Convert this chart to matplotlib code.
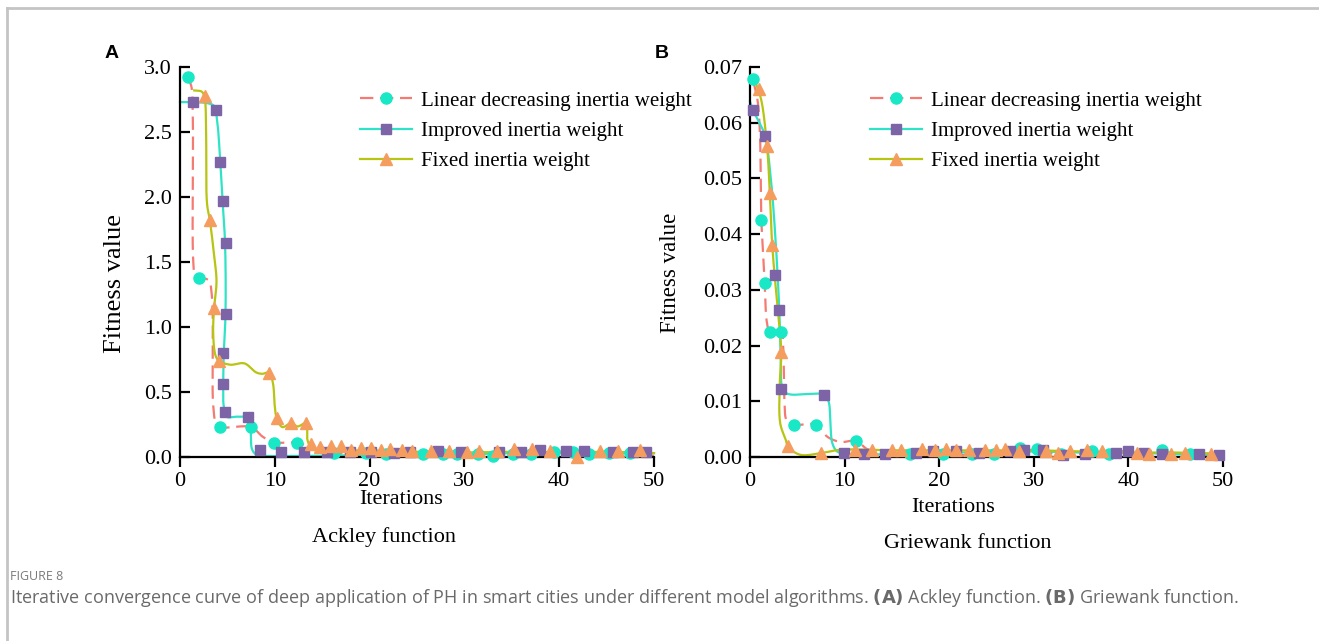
import numpy as np
import matplotlib
matplotlib.use("Agg")
import matplotlib.pyplot as plt
from matplotlib.lines import Line2D

# ---- data ----
# (A) Ackley function
ack_lin_line_x = [0.8, 1.2, 1.35, 1.4, 1.6, 2.0, 3.0, 3.35, 3.5, 3.8, 4.25, 7.5, 8.7, 9.6, 9.95, 12.3, 13.6,
                  15.0, 16.2, 19.6, 21.7, 25.6, 29.2, 33.0, 37.0, 39.4, 41.5, 45.3, 47.5, 50.0]
ack_lin_line_y = [2.92, 2.85, 2.6, 1.5, 1.39, 1.38, 1.36, 1.25, 0.4, 0.26, 0.23, 0.23, 0.157, 0.12, 0.11, 0.11, 0.08,
                  0.035, 0.03, 0.02, 0.02, 0.015, 0.02, 0.01, 0.02, 0.04, 0.04, 0.025, 0.02, 0.01]
ack_lin_mk_x = [0.8, 2.0, 4.25, 7.5, 9.95, 12.3, 16.2, 19.6, 21.7, 25.6, 27.7, 29.2, 31.4, 33.0, 35.1, 37.0,
                39.4, 41.5, 43.1, 45.3, 47.5]
ack_lin_mk_y = [2.92, 1.38, 0.23, 0.23, 0.11, 0.11, 0.03, 0.03, 0.02, 0.02, 0.02, 0.02, 0.02, 0.01, 0.025, 0.02,
                0.04, 0.04, 0.025, 0.03, 0.03]

ack_imp_line_x = [0, 1.38, 3.0, 3.6, 3.9, 4.25, 4.49, 4.75, 4.8, 4.62, 4.56, 4.6, 4.9, 6.0, 7.18, 7.45, 7.6,
                  8.1, 9.0, 12.0, 15.0, 20.0, 25.0, 30.0, 35.0, 40.0, 45.0, 50.0]
ack_imp_line_y = [2.73, 2.73, 2.72, 2.70, 2.6, 2.27, 1.97, 1.65, 1.10, 0.80, 0.56, 0.40, 0.31, 0.31, 0.30, 0.2,
                  0.06, 0.015, 0.008, 0.008, 0.01, 0.015, 0.02, 0.02, 0.03, 0.035, 0.03, 0.03]
ack_imp_mk_x = [1.38, 3.83, 4.25, 4.49, 4.8, 4.8, 4.56, 4.56, 4.73, 7.18, 8.4, 10.7, 13.06, 15.5, 17.9, 20.1,
                22.6, 24.3, 27.2, 29.6, 33.6, 36.0, 38.0, 40.7, 42.6, 45.7, 47.8, 49.2]
ack_imp_mk_y = [2.73, 2.67, 2.27, 1.97, 1.65, 1.10, 0.80, 0.56, 0.35, 0.31, 0.054, 0.036, 0.036, 0.04, 0.04,
                0.04, 0.03, 0.035, 0.05, 0.04, 0.04, 0.035, 0.055, 0.05, 0.045, 0.04, 0.04, 0.035]

ack_fix_line_x = [1.5, 2.3, 2.6, 2.75, 2.85, 3.15, 3.6, 3.85, 3.6, 3.5, 3.75, 4.1, 5.3, 6.8, 8.05, 8.7, 9.4,
                  9.8, 10.0, 10.2, 10.8, 11.7, 12.4, 13.3, 13.45, 13.95, 15.0, 20.0, 25.0, 30.0, 35.0, 40.0,
                  45.0, 50.0]
ack_fix_line_y = [2.82, 2.81, 2.76, 2.5, 1.95, 1.82, 1.55, 1.35, 1.15, 0.95, 0.78, 0.74, 0.71, 0.72, 0.65,
                  0.64, 0.65, 0.57, 0.39, 0.30, 0.23, 0.26, 0.235, 0.26, 0.13, 0.06, 0.05, 0.05, 0.04, 0.035,
                  0.04, 0.035, 0.04, 0.03]
ack_fix_mk_x = [2.6, 3.15, 3.6, 4.1, 9.4, 10.2, 11.7, 13.3, 13.8, 14.8, 15.9, 17.0, 18.0, 19.1, 20.2, 21.2,
                22.2, 23.4, 24.5, 26.5, 28.4, 30.3, 31.5, 33.4, 35.2, 37.1, 39.0, 41.9, 44.3, 46.2, 48.5]
ack_fix_mk_y = [2.78, 1.82, 1.15, 0.74, 0.65, 0.30, 0.26, 0.26, 0.10, 0.08, 0.085, 0.085, 0.055, 0.07, 0.07,
                0.055, 0.065, 0.055, 0.05, 0.05, 0.05, 0.04, 0.05, 0.05, 0.065, 0.06, 0.05, 0.0, 0.05, 0.05,
                0.055]

# (B) Griewank function
grw_lin_line_x = [0.3, 0.8, 1.05, 1.15, 1.2, 1.4, 1.55, 1.8, 2.1, 3.3, 3.5, 3.65, 3.9, 4.7, 7.0, 8.2, 9.6,
                  11.2, 12.4, 14.0, 16.9, 20.4, 25.8, 28.5, 30.3, 32.9, 36.1, 38.0, 40.0, 43.5, 46.5, 50.0]
grw_lin_line_y = [0.0678, 0.064, 0.058, 0.047, 0.0425, 0.036, 0.0313, 0.024, 0.0225, 0.0225, 0.020, 0.010,
                  0.0065, 0.0058, 0.0058, 0.0036, 0.0027, 0.0029, 0.0014, 0.0006, 0.0004, 0.0004, 0.0004,
                  0.0012, 0.0012, 0.0004, 0.0007, 0.0005, 0.0012, 0.001, 0.0005, 0.0002]
grw_lin_mk_x = [0.3, 1.2, 1.55, 2.1, 3.3, 4.7, 7.0, 11.2, 16.9, 20.4, 23.5, 25.8, 28.5, 30.3, 32.9, 36.1,
                38.0, 43.5, 46.5]
grw_lin_mk_y = [0.0678, 0.0425, 0.0313, 0.0225, 0.0225, 0.0058, 0.0058, 0.0029, 0.0006, 0.0006, 0.0005,
                0.0006, 0.0016, 0.0015, 0.0006, 0.001, 0.0006, 0.0012, 0.0006]

grw_imp_line_x = [0, 0.3, 1.0, 1.6, 2.2, 2.7, 3.1, 3.25, 3.4, 3.8, 4.4, 6.1, 7.8, 8.3, 8.5, 8.7, 9.2, 10.0,
                  15.0, 20.0, 25.0, 30.0, 35.0, 40.0, 45.0, 50.0]
grw_imp_line_y = [0.0638, 0.0623, 0.060, 0.0576, 0.05, 0.039, 0.0263, 0.018, 0.0125, 0.0115, 0.0112, 0.0113,
                  0.0112, 0.0100, 0.006, 0.0025, 0.001, 0.0006, 0.0005, 0.0008, 0.0008, 0.001, 0.0008, 0.0008,
                  0.0005, 0.0004]
grw_imp_mk_x = [0.3, 1.6, 2.6, 3.1, 3.3, 7.8, 9.9, 12.1, 14.3, 17.5, 19.3, 21.8, 24.2, 27.5, 29.0, 31.0,
                33.1, 35.4, 38.7, 40.0, 41.6, 43.5, 47.5, 49.6]
grw_imp_mk_y = [0.0623, 0.0576, 0.0327, 0.0263, 0.0122, 0.0112, 0.0007, 0.0006, 0.0005, 0.0008, 0.001, 0.001,
                0.0007, 0.001, 0.0013, 0.0013, 0.0004, 0.0005, 0.0008, 0.001, 0.0008, 0.0006, 0.0006, 0.0004]

grw_fix_line_x = [0.7, 1.2, 1.8, 2.1, 2.35, 2.9, 3.3, 3.15, 3.2, 3.8, 4.0, 5.3, 7.5, 9.6, 15.0, 20.0, 25.0,
                  30.0, 35.0, 40.0, 45.0, 50.0]
grw_fix_line_y = [0.0667, 0.064, 0.0558, 0.0473, 0.038, 0.027, 0.0188, 0.0133, 0.006, 0.003, 0.0019, 0.0004,
                  0.0007, 0.0013, 0.0012, 0.0012, 0.0012, 0.0012, 0.0010, 0.0008, 0.0008, 0.0006]
grw_fix_mk_x = [0.9, 1.8, 2.1, 2.35, 3.3, 4.0, 7.5, 11.1, 12.9, 15.0, 16.0, 18.2, 19.6, 20.7, 21.8, 23.1, 24.8,
                26.0, 27.0, 28.4, 31.3, 32.6, 33.8, 35.6, 37.2, 40.9, 42.2, 44.5, 46.0, 48.7]
grw_fix_mk_y = [0.066, 0.0558, 0.0473, 0.038, 0.0188, 0.0019, 0.0007, 0.0013, 0.0013, 0.0013, 0.0013, 0.0014,
                0.0013, 0.0014, 0.0013, 0.0012, 0.0013, 0.0013, 0.0014, 0.0010, 0.001, 0.0008, 0.0011, 0.0012,
                0.0011, 0.0007, 0.0006, 0.0006, 0.0008, 0.0006]

labels = ["Linear decreasing inertia weight", "Improved inertia weight", "Fixed inertia weight"]

RED = "#f47a72"
CYAN = "#2fe3c6"
YGREEN = "#b8c412"
C_CIRCLE = "#19e8c6"
C_SQUARE = "#7d64a6"
C_TRI = "#f59d5e"

SERIF = ["Liberation Serif", "DejaVu Serif"]
plt.rcParams["font.family"] = SERIF


def smooth(x, y, sx, sy, n=24):
    # centripetal catmull-rom through the vertices, done in pixel-like units
    p = np.column_stack([np.asarray(x, float) * sx, np.asarray(y, float) * sy])
    p = np.vstack([2 * p[0] - p[1], p, 2 * p[-1] - p[-2]])
    out = []
    for i in range(1, len(p) - 2):
        p0, p1, p2, p3 = p[i - 1], p[i], p[i + 1], p[i + 2]
        t0 = 0.0
        t1 = t0 + max(np.linalg.norm(p1 - p0), 1e-6) ** 0.5
        t2 = t1 + max(np.linalg.norm(p2 - p1), 1e-6) ** 0.5
        t3 = t2 + max(np.linalg.norm(p3 - p2), 1e-6) ** 0.5
        t = np.linspace(t1, t2, n)[:, None]
        a1 = (t1 - t) / (t1 - t0) * p0 + (t - t0) / (t1 - t0) * p1
        a2 = (t2 - t) / (t2 - t1) * p1 + (t - t1) / (t2 - t1) * p2
        a3 = (t3 - t) / (t3 - t2) * p2 + (t - t2) / (t3 - t2) * p3
        b1 = (t2 - t) / (t2 - t0) * a1 + (t - t0) / (t2 - t0) * a2
        b2 = (t3 - t) / (t3 - t1) * a2 + (t - t1) / (t3 - t1) * a3
        c = (t2 - t) / (t2 - t1) * b1 + (t - t1) / (t2 - t1) * b2
        out.append(c)
    c = np.vstack(out)
    return c[:, 0] / sx, c[:, 1] / sy


W, H = 1319, 641
fig = plt.figure(figsize=(W / 100, H / 100), dpi=100)


def px(x, y):
    return x / W, 1 - y / H


def panel(rect, ymax, yticks, yfmt, series, sy):
    ax = fig.add_axes(rect)
    sx = rect[2] * W / 50.0
    styles = [(RED, (0, (6, 3)), "o", C_CIRCLE, 8),
              (CYAN, "-", "s", C_SQUARE, 7.5),
              (YGREEN, "-", "^", C_TRI, 8.5)]
    for (lx, ly, mx, my), (lc, ls, mk, mc, ms) in zip(series, styles):
        xs, ys = smooth(lx, ly, sx, sy)
        ax.plot(xs, ys, color=lc, ls=ls, lw=1.6, zorder=2, clip_on=False)
    for (lx, ly, mx, my), (lc, ls, mk, mc, ms) in zip(series, styles):
        ax.plot(mx, my, ls="none", marker=mk, ms=ms, mfc=mc, mec=mc, zorder=3, clip_on=False)
    ax.set_xlim(0, 50)
    ax.set_ylim(0, ymax)
    ax.set_xticks([0, 10, 20, 30, 40, 50])
    ax.set_yticks(yticks)
    ax.set_yticklabels([yfmt % v for v in yticks])
    for s in ["top", "right"]:
        ax.spines[s].set_visible(False)
    for s in ["left", "bottom"]:
        ax.spines[s].set_linewidth(1.6)
    ax.tick_params(axis="y", direction="in", length=7, width=1.6, labelsize=16, pad=6)
    ax.tick_params(axis="x", direction="out", length=7, width=1.6, labelsize=16, pad=4)
    handles = [Line2D([], [], color=lc, ls=ls, lw=1.6, marker=mk, ms=ms, mfc=mc, mec=mc)
               for (lc, ls, mk, mc, ms) in styles]
    return ax, handles


axA, hA = panel([180 / W, 1 - 457 / H, 474 / W, 390 / H], 3.0, [0, 0.5, 1.0, 1.5, 2.0, 2.5, 3.0], "%.1f",
                [(ack_lin_line_x, ack_lin_line_y, ack_lin_mk_x, ack_lin_mk_y),
                 (ack_imp_line_x, ack_imp_line_y, ack_imp_mk_x, ack_imp_mk_y),
                 (ack_fix_line_x, ack_fix_line_y, ack_fix_mk_x, ack_fix_mk_y)], 390 / 3.0)
axB, hB = panel([750 / W, 1 - 457 / H, 473 / W, 390 / H], 0.07, [0, 0.01, 0.02, 0.03, 0.04, 0.05, 0.06, 0.07],
                "%.2f",
                [(grw_lin_line_x, grw_lin_line_y, grw_lin_mk_x, grw_lin_mk_y),
                 (grw_imp_line_x, grw_imp_line_y, grw_imp_mk_x, grw_imp_mk_y),
                 (grw_fix_line_x, grw_fix_line_y, grw_fix_mk_x, grw_fix_mk_y)], 390 / 0.07)

for ax, h, x0 in [(axA, hA, 360), (axB, hB, 870)]:
    ax.legend(h, labels, loc="upper left", bbox_to_anchor=px(x0, 91), bbox_transform=fig.transFigure,
              frameon=False, fontsize=15, handlelength=2.5, handletextpad=0.45, labelspacing=0.52,
              borderpad=0, borderaxespad=0)

# panel letters, axis labels, sub-titles
fig.text(*px(112, 53), "A", fontsize=14, fontweight="bold", family="Liberation Sans", ha="center", va="center")
fig.text(*px(662, 53), "B", fontsize=14, fontweight="bold", family="Liberation Sans", ha="center", va="center")
fig.text(*px(115, 284), "Fitness value", fontsize=19, rotation=90, ha="center", va="center")
fig.text(*px(670, 273), "Fitness value", fontsize=16.5, rotation=90, ha="center", va="center")
fig.text(*px(401, 500), "Iterations", fontsize=16, ha="center", va="center")
fig.text(*px(953, 508), "Iterations", fontsize=16, ha="center", va="center")
fig.text(*px(384, 537), "Ackley function", fontsize=16, ha="center", va="center")
fig.text(*px(968, 544), "Griewank function", fontsize=16, ha="center", va="center")

# caption
fig.text(*px(10, 577), "FIGURE 8", fontsize=9, color="#7a7a7a", family="Open Sans", ha="left", va="center")
fig.text(*px(10, 598),
         "Iterative convergence curve of deep application of PH in smart cities under different model algorithms. "
         "$\\bf{(A)}$ Ackley function. $\\bf{(B)}$ Griewank function.",
         fontsize=13, color="#6a6a6a", family="Open Sans", ha="left", va="center")

# frame lines at the top and left
fig.add_artist(Line2D([7 / W, 1], [1 - 8 / H, 1 - 8 / H], color="#c4c4c4", lw=2, transform=fig.transFigure))
fig.add_artist(Line2D([7 / W, 7 / W], [0, 1 - 8 / H], color="#c4c4c4", lw=2, transform=fig.transFigure))

fig.savefig("out.png", dpi=100)
